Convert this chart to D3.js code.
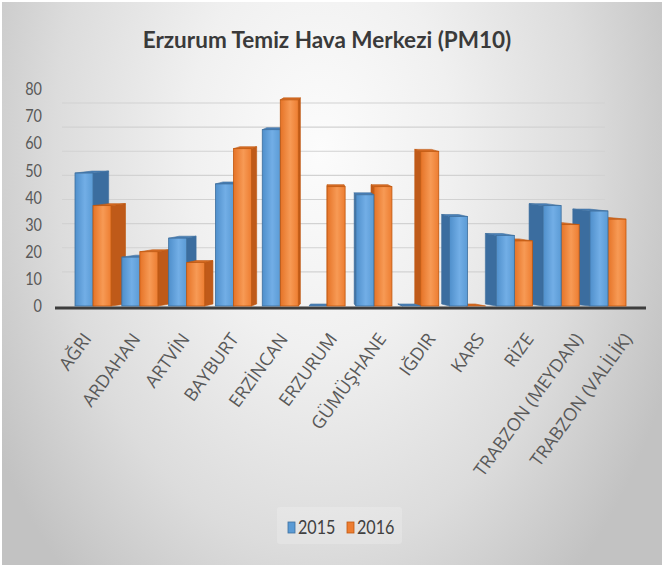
<!DOCTYPE html>
<html>
<head>
<meta charset="utf-8">
<script src="https://cdn.jsdelivr.net/npm/d3@7"></script>
<style>
  body { margin: 0; background: #fff; }
  svg { display: block; }
</style>
</head>
<body>
<div id="chart"></div>
<script>
var categories = ["AĞRI", "ARDAHAN", "ARTVİN", "BAYBURT", "ERZİNCAN", "ERZURUM",
  "GÜMÜŞHANE", "IĞDIR", "KARS", "RİZE", "TRABZON (MEYDAN)", "TRABZON (VALİLİK)"];
var series = ["2015", "2016"];
var values2015 = [49, 18, 25, 45, 65, 0, 41, 0, 33, 26, 37, 35];
var values2016 = [37, 20, 16, 58, 76, 44, 44, 57, 0, 24, 30, 32];
var yTicks = [0, 10, 20, 30, 40, 50, 60, 70, 80];

drawChart();

function drawChart() {
  var width = 664, height = 569;
  var vp = 330, depth = 0.066, lift = 2;

  var colors = {
    "2015": {front: ["#4f8fcb", "#72aee6", "#5b9bd5"], side: "#3b6d9f", top: "#4a80b8", stroke: "#3e6f9e"},
    "2016": {front: ["#e57327", "#f79a55", "#ed7d31"], side: "#bf5a19", top: "#d66b24", stroke: "#c0580f"}
  };

  var svg = d3.select("#chart").append("svg")
    .attr("width", width)
    .attr("height", height);

  var defs = svg.append("defs");
  var bg = defs.append("radialGradient").attr("id", "bg")
    .attr("gradientUnits", "userSpaceOnUse")
    .attr("cx", 320).attr("cy", 150).attr("r", 380)
    .attr("gradientTransform", "translate(320,150) scale(1,1.5) translate(-320,-150)");
  bg.append("stop").attr("offset", "0%").attr("stop-color", "#fcfcfc");
  bg.append("stop").attr("offset", "35%").attr("stop-color", "#f0f0f0");
  bg.append("stop").attr("offset", "70%").attr("stop-color", "#dcdcdc");
  bg.append("stop").attr("offset", "100%").attr("stop-color", "#c2c2c2");

  series.forEach(function(s) {
    var g = defs.append("linearGradient").attr("id", "front" + s)
      .attr("x1", "0%").attr("x2", "100%").attr("y1", "0%").attr("y2", "0%");
    g.append("stop").attr("offset", "0%").attr("stop-color", colors[s].front[0]);
    g.append("stop").attr("offset", "55%").attr("stop-color", colors[s].front[1]);
    g.append("stop").attr("offset", "100%").attr("stop-color", colors[s].front[2]);
  });

  svg.append("rect")
    .attr("x", 2).attr("y", 2)
    .attr("width", width - 4).attr("height", height - 6)
    .attr("fill", "url(#bg)");

  svg.append("text")
    .attr("x", 327).attr("y", 48)
    .attr("text-anchor", "middle")
    .attr("font-family", "Lato, sans-serif")
    .attr("font-weight", "bold")
    .attr("font-size", 22.5)
    .attr("fill", "#3a3a3a")
    .text("Erzurum Temiz Hava Merkezi (PM10)");

  var x0 = d3.scaleBand().domain(categories).range([75, 626])
    .paddingInner(0.23).paddingOuter(0);
  var x1 = d3.scaleBand().domain(series).range([0, x0.bandwidth()]);
  var y = d3.scaleLinear().domain([0, 80]).range([306, 89]);
  var yBack = d3.scaleLinear().domain([0, 80]).range([296, 103]);

  // back wall gridlines
  svg.append("g").selectAll("line")
    .data(yTicks.slice(1))
    .enter().append("line")
    .attr("x1", 62).attr("x2", 605)
    .attr("y1", function(d) { return yBack(d); })
    .attr("y2", function(d) { return yBack(d); })
    .attr("stroke", "#d2d2d2")
    .attr("stroke-width", 1.2);

  // y axis labels (squeezed a bit to look like Calibri)
  svg.append("g").selectAll("g")
    .data(yTicks)
    .enter().append("g")
    .attr("transform", function(d) { return "translate(42," + y(d) + ") scale(0.85,1)"; })
    .append("text")
    .attr("dy", "0.36em")
    .attr("text-anchor", "end")
    .attr("font-family", "Lato, sans-serif")
    .attr("font-size", 17)
    .attr("fill", "#595959")
    .text(function(d) { return d; });

  svg.append("line")
    .attr("x1", 55).attr("x2", 646)
    .attr("y1", 308).attr("y2", 308)
    .attr("stroke", "#3d3d3d")
    .attr("stroke-width", 3);

  var bars = [];
  categories.forEach(function(c, i) {
    bars.push({cat: c, s: "2015", v: values2015[i]});
    bars.push({cat: c, s: "2016", v: values2016[i]});
  });
  bars.forEach(function(b) {
    b.x = x0(b.cat) + x1(b.s);
    b.w = x1.bandwidth();
    b.cx = b.x + b.w / 2;
  });
  // paint the bars farthest from the vanishing point first
  bars.sort(function(a, b) { return Math.abs(b.cx - vp) - Math.abs(a.cx - vp); });

  function dx(px) { return (vp - px) * depth; }
  var line = d3.line();

  svg.append("g").selectAll("g")
    .data(bars)
    .enter().append("g")
    .each(function(b) {
      var g = d3.select(this);
      var xl = b.x, xr = b.x + b.w, yt = y(b.v), yb = y(0);
      var edge = b.cx < vp ? xr : xl;
      var e = dx(edge);
      g.append("path")
        .attr("d", line([[edge, yt], [edge + e, yt - lift], [edge + e, yb - lift], [edge, yb]]) + "Z")
        .attr("fill", colors[b.s].side)
        .attr("stroke", colors[b.s].stroke)
        .attr("stroke-width", 0.6);
      g.append("path")
        .attr("d", line([[xl, yt], [xr, yt], [xr + dx(xr), yt - lift], [xl + dx(xl), yt - lift]]) + "Z")
        .attr("fill", colors[b.s].top)
        .attr("stroke", colors[b.s].stroke)
        .attr("stroke-width", 0.6);
      g.append("rect")
        .attr("x", xl).attr("y", yt)
        .attr("width", b.w).attr("height", yb - yt)
        .attr("fill", "url(#front" + b.s + ")")
        .attr("stroke", colors[b.s].stroke)
        .attr("stroke-width", 0.8);
    });

  // category labels
  svg.append("g").selectAll("text")
    .data(categories)
    .enter().append("text")
    .attr("transform", function(d) {
      var c = x0(d) + x0.bandwidth() / 2;
      return "translate(" + (c + (c - vp) * 0.05 + 11) + ",339) rotate(-54)";
    })
    .attr("text-anchor", "end")
    .attr("font-family", "'Open Sans', sans-serif")
    .attr("font-size", 18)
    .attr("fill", "#595959")
    .text(function(d) { return d; });

  // legend
  svg.append("rect")
    .attr("x", 277).attr("y", 507)
    .attr("width", 125).attr("height", 37)
    .attr("rx", 3)
    .attr("fill", "#ffffff")
    .attr("fill-opacity", 0.2);

  var legend = svg.append("g").attr("transform", "translate(288,522)");
  var item = legend.selectAll("g")
    .data(series)
    .enter().append("g")
    .attr("transform", function(d, i) { return "translate(" + (i * 59) + ",0)"; });
  item.append("rect")
    .attr("width", 7).attr("height", 11)
    .attr("fill", function(d) { return colors[d].front[2]; })
    .attr("stroke", function(d) { return colors[d].stroke; })
    .attr("stroke-width", 0.8);
  item.append("g")
    .attr("transform", "translate(10,12) scale(0.85,1)")
    .append("text")
    .attr("font-family", "Lato, sans-serif")
    .attr("font-size", 19)
    .attr("fill", "#404040")
    .text(function(d) { return d; });
}
</script>
</body>
</html>
